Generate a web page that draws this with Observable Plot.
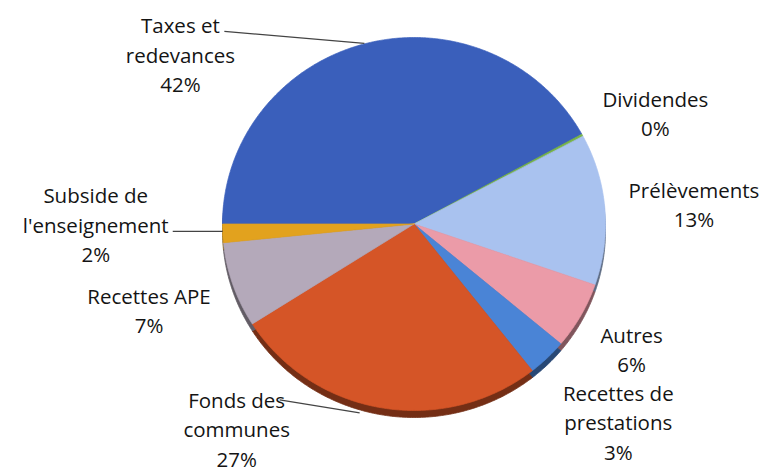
<!DOCTYPE html>
<html>
<head>
<meta charset="utf-8">
<script src="https://cdn.jsdelivr.net/npm/d3@7"></script>
<script src="https://cdn.jsdelivr.net/npm/@observablehq/plot@0.6"></script>
<style>
  html, body { margin: 0; padding: 0; background: #fff; }
  #chart { width: 765px; height: 475px; }
</style>
</head>
<body>
<div id="chart"></div>
<script>
// ---- data ----
const categories = ["Taxes et redevances", "Dividendes", "Prélèvements", "Autres",
  "Recettes de prestations", "Fonds des communes", "Recettes APE", "Subside de l'enseignement"];
const shares = [42.0, 0.2, 13.1, 5.8, 3.3, 26.6, 7.4, 1.6];
const labels = ["Taxes et\nredevances", "Dividendes", "Prélèvements", "Autres",
  "Recettes de\nprestations", "Fonds des\ncommunes", "Recettes APE", "Subside de\nl'enseignement"];
const colors = ["#3a5fbb", "#7ab648", "#a9c2ef", "#eb9ba8", "#4a84d6", "#d55527", "#b4a9ba", "#e2a21e"];

// ---- layout (pixels) ----
const W = 765, H = 475;
const cx = 413.5, cy = 223.5, rx = 191.5, ry = 186.5;
const depth = 7;
const startDeg = 270;
// label block centre offset from the edge point at the slice mid-angle
const labelOffsets = [[-186, 10], [73, -23], [89, -6], [51, 32], [71, 63], [-145, 20], [-84, 24], [-127, -10]];
// leader lines: [slice index, from offset, to offset]
const leaders = [[0, [-142, -12], [-2, 0]], [5, [-102, -8], [-22, 5]], [7, [-50, -2], [0, -2]]];

// ---- geometry through scales ----
const total = d3.sum(shares);
const slices = [];
let acc = startDeg;
shares.forEach((v, i) => {
  const a0 = acc, a1 = acc + v / total * 360;
  slices.push({i, a0, a1, mid: (a0 + a1) / 2});
  acc = a1;
});
const rad = d => d * Math.PI / 180;
const polys = [], shadows = [];
const dy = depth / ry;
for (const s of slices) {
  const pts = [{k: s.i, x: 0, y: 0}];
  const n = Math.max(2, Math.ceil((s.a1 - s.a0) / 0.5));
  for (let j = 0; j <= n; j++) {
    const t = rad(s.a0 + (s.a1 - s.a0) * j / n);
    pts.push({k: s.i, x: Math.sin(t), y: Math.cos(t)});
  }
  pts.push({k: s.i, x: 0, y: 0});
  polys.push(...pts);
  shadows.push(...pts.map(p => ({k: p.k, x: p.x, y: p.y - dy})));
}
const edge = s => ({x: Math.sin(rad(s.mid)), y: Math.cos(rad(s.mid))});
const labelRows = slices.map(s => {
  const e = edge(s), o = labelOffsets[s.i];
  return {x: e.x + o[0] / rx, y: e.y - o[1] / ry,
          text: labels[s.i] + "\n" + Math.round(shares[s.i]) + "%"};
});
const leaderRows = leaders.map(([i, f, t]) => {
  const e = edge(slices[i]);
  return {x1: e.x + f[0] / rx, y1: e.y - f[1] / ry, x2: e.x + t[0] / rx, y2: e.y - t[1] / ry};
});
const shade = k => d3.color(colors[k]).darker(1.7).formatHex();

const chart = Plot.plot({
  width: W, height: H,
  margin: 0,
  x: {domain: [-cx / rx, (W - cx) / rx], axis: null},
  y: {domain: [-(H - cy) / ry, cy / ry], axis: null},
  style: {fontFamily: "'Open Sans', sans-serif", background: "#fff"},
  marks: [
    Plot.line(shadows, {x: "x", y: "y", z: "k", fill: d => shade(d.k), stroke: d => shade(d.k), strokeWidth: 0.8}),
    Plot.line(polys, {x: "x", y: "y", z: "k", fill: d => colors[d.k], stroke: d => colors[d.k],
      strokeWidth: 0.7, strokeLinejoin: "round"}),
    Plot.link(leaderRows, {x1: "x1", y1: "y1", x2: "x2", y2: "y2", stroke: "#444", strokeWidth: 1.2}),
    Plot.text(labelRows, {x: "x", y: "y", text: "text", fontSize: 20.5, lineHeight: 1.43, fill: "#141414"})
  ]
});
document.getElementById("chart").append(chart);
</script>
</body>
</html>
